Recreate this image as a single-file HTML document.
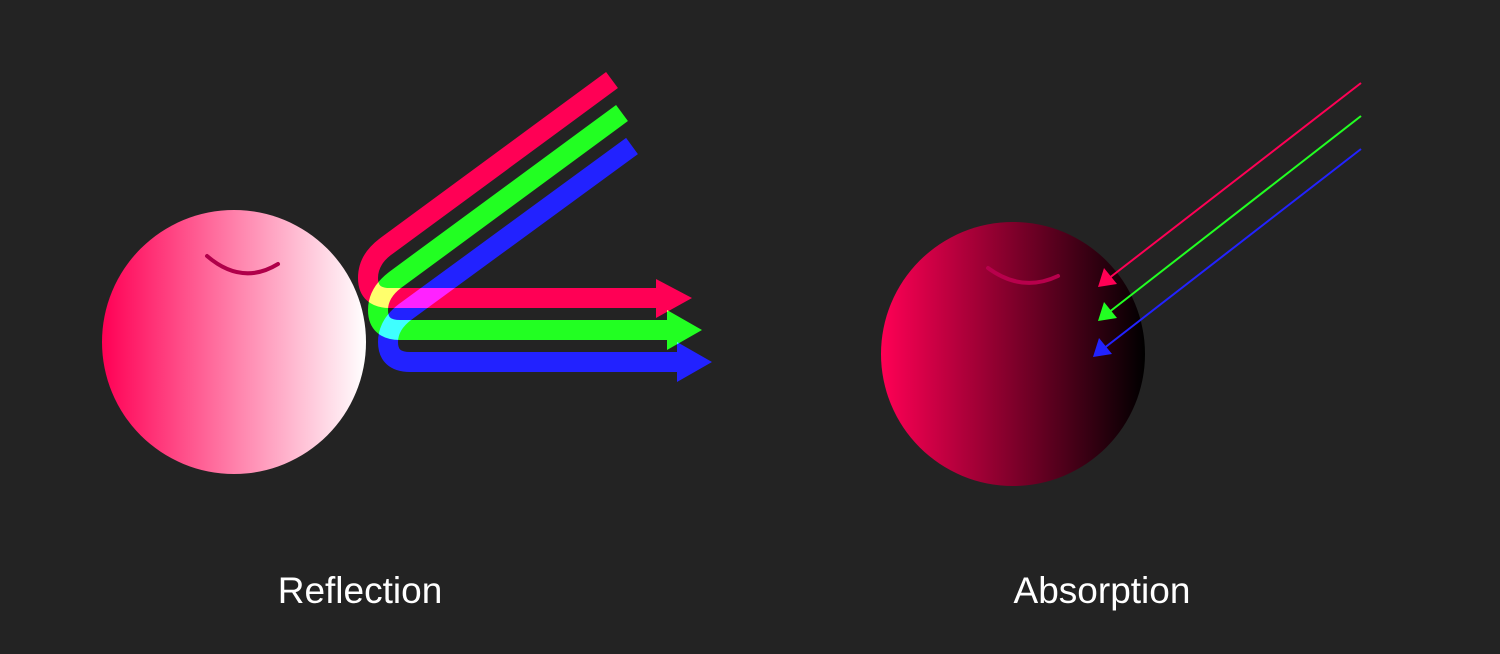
<!DOCTYPE html>
<html><head><meta charset="utf-8"><style>
html,body{margin:0;padding:0;background:#232323;}
svg{display:block;}
</style></head><body>
<svg width="1500" height="654" viewBox="0 0 1500 654" xmlns="http://www.w3.org/2000/svg">
<defs>
<linearGradient id="gl" x1="0" x2="1" y1="0" y2="0">
<stop offset="0" stop-color="#ff0055"/><stop offset="1" stop-color="#ffffff"/>
</linearGradient>
<linearGradient id="gr" x1="0" x2="1" y1="0" y2="0">
<stop offset="0" stop-color="#ff0055"/><stop offset="1" stop-color="#000000"/>
</linearGradient>
</defs>
<rect width="1500" height="654" fill="#232323"/>

<g>
<circle cx="234" cy="342" r="132" fill="url(#gl)"/>
<path d="M207,256 Q242,286 278,264" fill="none" stroke="#b0004a" stroke-width="4" stroke-linecap="round"/>
</g>

<g style="isolation:isolate">
<g style="mix-blend-mode:screen">
<path d="M612,80 L385,247 Q368,260 368,278 Q368,298 390,298 L662,298" fill="none" stroke="#ff0055" stroke-width="20"/>
<polygon points="656,279 692,298 656,318" fill="#ff0055"/>
</g>
<g style="mix-blend-mode:screen">
<path d="M622,113 L395,280 Q378,293 378,310 Q378,330 400,330 L672,330" fill="none" stroke="#22ff22" stroke-width="20"/>
<polygon points="667,310 702,330 667,350" fill="#22ff22"/>
</g>
<g style="mix-blend-mode:screen">
<path d="M632,146 L405,312 Q388,325 388,342 Q388,362 410,362 L682,362" fill="none" stroke="#2222ff" stroke-width="20"/>
<polygon points="677,342 712,362 677,382" fill="#2222ff"/>
</g>
</g>

<g>
<circle cx="1013" cy="354" r="132" fill="url(#gr)"/>
<path d="M988,268 Q1022,293 1058,276" fill="none" stroke="#b8004c" stroke-width="4" stroke-linecap="round"/>
</g>

<g>
<line x1="1361" y1="83" x2="1108" y2="279" stroke="#ff0055" stroke-width="2"/>
<polygon points="1098,287 1104,268 1117,284" fill="#ff0055"/>
<line x1="1361" y1="116" x2="1108" y2="313" stroke="#22ff22" stroke-width="2"/>
<polygon points="1098,321 1104,302 1117,318" fill="#22ff22"/>
<line x1="1361" y1="149" x2="1103" y2="349" stroke="#2222ff" stroke-width="2"/>
<polygon points="1093,357 1099,338 1112,354" fill="#2222ff"/>
</g>

<text x="360" y="603" text-anchor="middle" fill="#ffffff" font-family="Liberation Sans, sans-serif" font-size="37">Reflection</text>
<text x="1102" y="603" text-anchor="middle" fill="#ffffff" font-family="Liberation Sans, sans-serif" font-size="37">Absorption</text>
</svg>
</body></html>
